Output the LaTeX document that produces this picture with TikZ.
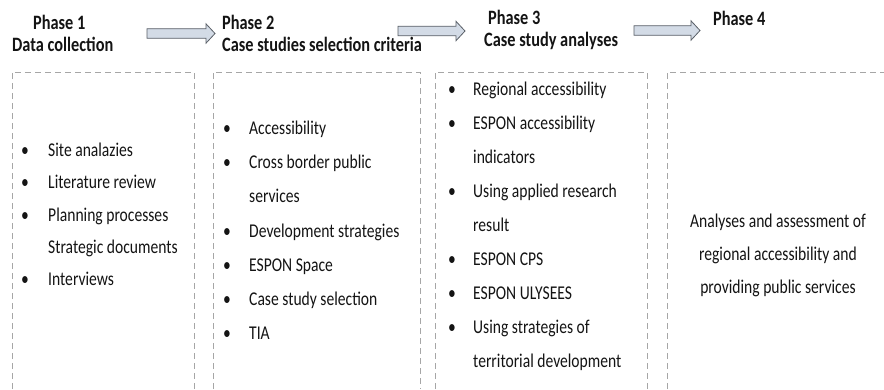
\documentclass[tikz,border=0pt]{standalone}
\usepackage{fontspec}
\setmainfont{Carlito}[FakeStretch=0.8]
\definecolor{boxgray}{HTML}{A6A6A6}
\definecolor{arrowfill}{HTML}{D3DBE6}
\definecolor{arrowline}{HTML}{5A6068}
\definecolor{txt}{HTML}{141414}
\tikzset{
  pics/blockarrow/.style={code={
    \draw[flow] (0,-4.8) -- (#1-9,-4.8) -- (#1-9,-9.7) -- (#1,0)
      -- (#1-9,9.7) -- (#1-9,4.8) -- (0,4.8) -- cycle;}},
}
\begin{document}
\begin{tikzpicture}[x=1pt,y=-1pt,
  frame/.style={draw=boxgray, dash pattern=on 6pt off 4pt, line width=0.9pt},
  head/.style={font=\fontsize{20.4}{22}\selectfont\bfseries, anchor=mid west, inner sep=0pt, text=txt},
  item/.style={font=\fontsize{19.5}{22}\selectfont, anchor=mid west, inner sep=0pt, text=txt},
  centred/.style={font=\fontsize{19.5}{22}\selectfont, anchor=mid, inner sep=0pt, text=txt},
  flow/.style={fill=arrowfill, draw=arrowline, line width=0.8pt, line join=miter}]
\useasboundingbox (0,0) rectangle (884,389);
\fill[white] (0,0) rectangle (884,389);

% phase titles
\node[head] (p1) at (33,27) {Phase 1};
\node[head] (p1s) at (12,49) {Data collection};
\node[head] (p2) at (222,27) {Phase 2};
\node[head] (p2s) at (222,49) {Case studies selection criteria};
\node[head] (p3) at (488,22) {Phase 3};
\node[head] (p3s) at (484,44) {Case study analyses};
\node[head] (p4) at (713,23) {Phase 4};

% block arrows between phases
\pic at (147,33.5) {blockarrow=68};
\pic at (398,31) {blockarrow=67};
\pic at (634,30.5) {blockarrow=66};

% dashed frames, open at the bottom
\draw[frame] (12,389) -- (12,72) -- (194,72) -- (194,389);
\draw[frame] (213,389) -- (213,72) -- (420,72) -- (420,389);
\draw[frame] (435,389) -- (435,72) -- (647,72) -- (647,389);
\draw[frame] (667,389) -- (667,72) -- (884,72);

% phase 1 items
\foreach \y/\t [count=\i] in {154/Site analazies, 186/Literature review,
    219/Planning processes, 251/Strategic documents, 283/Interviews}
  \node[item] (a\i) at (48,\y) {\t};
\foreach \y [count=\i] in {154,186,219,283}
  \node[item] (ab\i) at (21,\y) {•};

% phase 2 items
\foreach \y/\t [count=\i] in {132/Accessibility, 166/Cross border public,
    200/services, 235/Development strategies, 269/ESPON Space,
    303/Case study selection, 337/TIA}
  \node[item] (b\i) at (249,\y) {\t};
\foreach \y [count=\i] in {132,166,235,269,303,337}
  \node[item] (bb\i) at (223,\y) {•};

% phase 3 items
\foreach \y/\t [count=\i] in {93/Regional accessibility, 127/ESPON accessibility,
    161/indicators, 195/Using applied research, 229/result, 263/ESPON CPS,
    297/ESPON ULYSEES, 331/Using strategies of, 365/territorial development}
  \node[item] (c\i) at (473,\y) {\t};
\foreach \y [count=\i] in {93,127,195,263,297,331}
  \node[item] (cb\i) at (448,\y) {•};

% phase 4 outcome
\node[centred] (d1) at (778,225) {Analyses and assessment of};
\node[centred] (d2) at (778,258) {regional accessibility and};
\node[centred] (d3) at (778,291) {providing public services};
\end{tikzpicture}
\end{document}
